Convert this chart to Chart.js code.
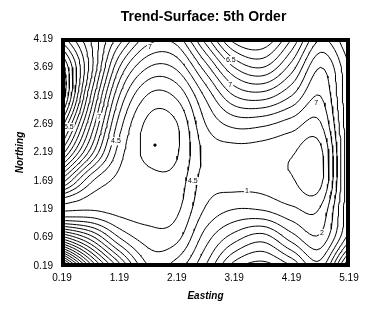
<!DOCTYPE html>
<html>
<head>
<meta charset="utf-8">
<script src="https://cdn.jsdelivr.net/npm/chart.js@4.4.1/dist/chart.umd.min.js"></script>
<style>
html, body { margin: 0; padding: 0; background: #fff; }
#wrap { width: 379px; height: 319px; }
</style>
</head>
<body>
<div id="wrap"><canvas id="chart" width="379" height="319"></canvas></div>
<script>
const titleText = "Trend-Surface: 5th Order";
const eastingTicks = [0.19, 1.19, 2.19, 3.19, 4.19, 5.19];
const northingTicks = [0.19, 0.69, 1.19, 1.69, 2.19, 2.69, 3.19, 3.69, 4.19];

// surface on a 0.5 grid, west -> east, rows north -> south
const gridEasting = [0.19, 0.69, 1.19, 1.69, 2.19, 2.69, 3.19, 3.69, 4.19, 4.69, 5.19];
const gridNorthing = [4.19, 3.69, 3.19, 2.69, 2.19, 1.69, 1.19, 0.69, 0.19];
const z419 = [-5, -1.5, 2, 5, 5, 1, -3, -3.5, -0.5, 3.5, 1.5];
const z369 = [-9, -2, 4.5, 7.5, 7.3, 4, 0.5, -0.5, 2, 5.5, 2.5];
const z319 = [-9.5, -0.5, 6.5, 9.6, 9.3, 6.3, 3.5, 3, 4.5, 6.5, 2.5];
const z269 = [-6, 1.5, 8, 10.75, 10.55, 7.5, 6.2, 6.3, 7, 7.6, 2.5];
const z219 = [-2, 4, 9, 10.75, 10.6, 8.2, 7.9, 8, 8.4, 8.8, 2.5];
const z169 = [4, 8.3, 9.8, 10.2, 10.1, 8, 7.9, 7.9, 8.4, 8.8, 2.5];
const z119 = [9.7, 9.6, 9.9, 10, 9.7, 7.4, 6.5, 6.6, 7.3, 7.4, 2.5];
const z069 = [1, 4, 7.5, 9, 8.8, 6, 4, 3, 5, 6.3, 2];
const z019 = [-12, -3, 3, 7.5, 7, 4.5, 1, 0, 1.5, 4, -3];
const contourLevels = [];
for (let v = -11.5; v <= 10.5; v += 1) contourLevels.push(v);

const peakX = [1.81];
const peakY = [2.32];

const labelText = ["7", "6.5", "7", "7", "5.5", "4.5", "4.5", "1", "2", "7"];
const labelX = [1.72, 3.13, 3.12, 0.84, 0.31, 1.13, 2.47, 3.41, 4.72, 4.62];
const labelY = [4.05, 3.82, 3.38, 2.82, 2.64, 2.39, 1.69, 1.51, 0.77, 3.06];

const zRows = [z419, z369, z319, z269, z219, z169, z119, z069, z019];
const nCol = gridEasting.length, nRow = gridNorthing.length;
const dE = gridEasting[1] - gridEasting[0];
const dN = gridNorthing[0] - gridNorthing[1];

// value with linear extrapolation one step past the border
function zAt(i, j) {
    if (j < 0) return 2 * zAt(i, 0) - zAt(i, 1);
    if (j >= nRow) return 2 * zAt(i, nRow - 1) - zAt(i, nRow - 2);
    const row = zRows[j];
    if (i < 0) return 2 * row[0] - row[1];
    if (i >= nCol) return 2 * row[nCol - 1] - row[nCol - 2];
    return row[i];
}

function cr(p0, p1, p2, p3, t) {
    return 0.5 * (2 * p1 + (-p0 + p2) * t + (2 * p0 - 5 * p1 + 4 * p2 - p3) * t * t + (-p0 + 3 * p1 - 3 * p2 + p3) * t * t * t);
}

function surface(u, v) {
    const i = Math.min(Math.floor(u), nCol - 2), j = Math.min(Math.floor(v), nRow - 2);
    const t = u - i, s = v - j;
    const col = [];
    for (let r = -1; r < 3; r++) {
        col.push(cr(zAt(i - 1, j + r), zAt(i, j + r), zAt(i + 1, j + r), zAt(i + 2, j + r), t));
    }
    return cr(col[0], col[1], col[2], col[3], s);
}

// fine grid for contouring
const sub = 8;
const fc = (nCol - 1) * sub + 1, fr = (nRow - 1) * sub + 1;
const F = [];
for (let r = 0; r < fr; r++) {
    const row = [];
    for (let c = 0; c < fc; c++) row.push(surface(c / sub, r / sub));
    F.push(row);
}
const toX = c => gridEasting[0] + (c / sub) * dE;
const toY = r => gridNorthing[0] - (r / sub) * dN;

function trace(level) {
    const pts = {};
    const segs = [];
    const edge = (id, c1, r1, c2, r2) => {
        if (!(id in pts)) {
            const a = F[r1][c1], b = F[r2][c2];
            const t = (level - a) / (b - a);
            pts[id] = { x: toX(c1 + (c2 - c1) * t), y: toY(r1 + (r2 - r1) * t) };
        }
        return id;
    };
    for (let r = 0; r < fr - 1; r++) {
        for (let c = 0; c < fc - 1; c++) {
            const tl = F[r][c] >= level, tr = F[r][c + 1] >= level;
            const br = F[r + 1][c + 1] >= level, bl = F[r + 1][c] >= level;
            const e = {};
            if (tl !== tr) e.top = edge("h" + r + "_" + c, c, r, c + 1, r);
            if (tr !== br) e.right = edge("v" + r + "_" + (c + 1), c + 1, r, c + 1, r + 1);
            if (bl !== br) e.bottom = edge("h" + (r + 1) + "_" + c, c, r + 1, c + 1, r + 1);
            if (tl !== bl) e.left = edge("v" + r + "_" + c, c, r, c, r + 1);
            const keys = Object.keys(e);
            if (keys.length === 2) segs.push([e[keys[0]], e[keys[1]]]);
            else if (keys.length === 4) {
                const mid = (F[r][c] + F[r][c + 1] + F[r + 1][c] + F[r + 1][c + 1]) / 4 >= level;
                if (mid === tl) { segs.push([e.top, e.right]); segs.push([e.bottom, e.left]); }
                else { segs.push([e.top, e.left]); segs.push([e.right, e.bottom]); }
            }
        }
    }
    const adj = new Map();
    segs.forEach((s, k) => s.forEach(id => {
        if (!adj.has(id)) adj.set(id, []);
        adj.get(id).push(k);
    }));
    const used = new Array(segs.length).fill(false);
    const lines = [];
    const extend = chain => {
        while (true) {
            const last = chain[chain.length - 1];
            const nb = (adj.get(last) || []).find(m => !used[m]);
            if (nb === undefined) break;
            used[nb] = true;
            chain.push(segs[nb][0] === last ? segs[nb][1] : segs[nb][0]);
        }
    };
    for (let k = 0; k < segs.length; k++) {
        if (used[k]) continue;
        used[k] = true;
        const chain = [segs[k][0], segs[k][1]];
        extend(chain);
        chain.reverse();
        extend(chain);
        lines.push(chain.map(id => pts[id]));
    }
    return lines;
}

const datasets = [];
contourLevels.forEach(level => {
    trace(level).forEach(line => {
        datasets.push({
            data: line,
            showLine: true,
            pointRadius: 0,
            borderColor: "#000",
            borderWidth: 1,
            tension: 0
        });
    });
});
datasets.push({
    data: peakX.map((x, k) => ({ x: x, y: peakY[k] })),
    pointRadius: 1.2,
    backgroundColor: "#000",
    borderColor: "#000",
    showLine: false
});

const font = "'Liberation Sans', Arial, sans-serif";

const framePlugin = {
    id: "frame",
    afterDatasetsDraw(chart) {
        const { ctx, chartArea: a, scales: { x, y } } = chart;
        ctx.save();
        ctx.font = "7px " + font;
        ctx.textAlign = "center";
        ctx.textBaseline = "middle";
        labelText.forEach((t, k) => {
            const px = x.getPixelForValue(labelX[k]), py = y.getPixelForValue(labelY[k]);
            const w = ctx.measureText(t).width;
            ctx.fillStyle = "#fff";
            ctx.fillRect(px - w / 2 - 1, py - 4, w + 2, 8);
            ctx.fillStyle = "#000";
            ctx.fillText(t, px, py);
        });
        ctx.lineWidth = 4;
        ctx.strokeStyle = "#000";
        ctx.strokeRect(a.left + 1, a.top + 1, a.right - a.left - 2, a.bottom - a.top - 2);
        ctx.font = "bold 14px " + font;
        ctx.fillStyle = "#000";
        ctx.fillText(titleText, (a.left + a.right) / 2 - 2, 17);
        ctx.restore();
    }
};

new Chart(document.getElementById("chart"), {
    type: "scatter",
    data: { datasets: datasets },
    options: {
        responsive: false,
        animation: false,
        devicePixelRatio: 1,
        layout: { padding: { top: 39, right: 30, bottom: 0, left: 0 } },
        plugins: { legend: { display: false }, tooltip: { enabled: false } },
        scales: {
            x: {
                type: "linear",
                min: eastingTicks[0],
                max: eastingTicks[eastingTicks.length - 1],
                afterBuildTicks: ax => { ax.ticks = eastingTicks.map(v => ({ value: v })); },
                afterFit: ax => { ax.height = 53; },
                ticks: { callback: v => v.toFixed(2), font: { family: font, size: 10 }, color: "#000", padding: 6, maxRotation: 0, autoSkip: false },
                grid: { display: false, drawTicks: false },
                border: { display: false },
                title: { display: true, text: "Easting", color: "#000", font: { family: font, size: 10, style: "italic", weight: "bold" }, padding: { top: 0, bottom: 17 } }
            },
            y: {
                type: "linear",
                min: northingTicks[0],
                max: northingTicks[northingTicks.length - 1],
                afterBuildTicks: ax => { ax.ticks = northingTicks.map(v => ({ value: v })); },
                afterFit: ax => { ax.width = 62; },
                ticks: { callback: v => v.toFixed(2), font: { family: font, size: 10 }, color: "#000", padding: 9, autoSkip: false },
                grid: { display: false, drawTicks: false },
                border: { display: false },
                title: { display: true, text: "Northing", color: "#000", font: { family: font, size: 10, style: "italic", weight: "bold" }, padding: { top: 14, bottom: 0 } }
            }
        }
    },
    plugins: [framePlugin]
});
</script>
</body>
</html>
